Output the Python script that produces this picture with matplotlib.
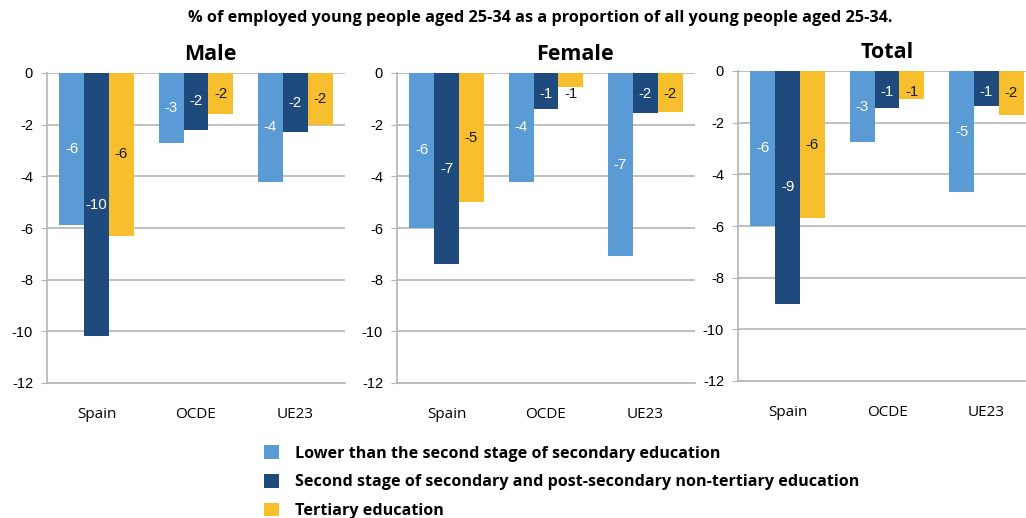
import numpy as np
import matplotlib
matplotlib.use("Agg")
import matplotlib.pyplot as plt
from matplotlib.patches import Patch

plt.rcParams["axes.unicode_minus"] = False

# Change in employment rate of 25-34 year olds, by education level
regions = ["Spain", "OCDE", "UE23"]
panels = ["Male", "Female", "Total"]
series = [
    "Lower than the second stage of secondary education",
    "Second stage of secondary and post-secondary non-tertiary education",
    "Tertiary education",
]

male_lower = [-5.9, -2.7, -4.2]
male_upper = [-10.2, -2.2, -2.3]
male_tertiary = [-6.3, -1.6, -2.0]

female_lower = [-6.0, -4.2, -7.1]
female_upper = [-7.4, -1.4, -1.55]
female_tertiary = [-5.0, -0.55, -1.52]

total_lower = [-6.0, -2.75, -4.7]
total_upper = [-9.0, -1.45, -1.35]
total_tertiary = [-5.7, -1.1, -1.7]

panel_data = {
    "Male": [male_lower, male_upper, male_tertiary],
    "Female": [female_lower, female_upper, female_tertiary],
    "Total": [total_lower, total_upper, total_tertiary],
}

colors = ["#5b9bd5", "#1f4a7d", "#f7bf2e"]
label_colors = ["white", "white", "#1a1a1a"]
grid_color = "#b5b5b5"

W, H = 1026, 518
fig = plt.figure(figsize=(W / 100, H / 100), dpi=100)

# axes boxes in pixels: left, right, top (y=0), bottom (y=-12)
boxes = [(47, 345, 73, 383), (397, 695, 73, 383), (738, 1036, 71, 381)]
title_x = [0.547, 0.597, 0.5]

bar_w = 0.25
x = np.arange(len(regions))

for name, (l, r, t, b), tx in zip(panels, boxes, title_x):
    ax = fig.add_axes([l / W, 1 - b / H, (r - l) / W, (b - t) / H])
    for i, vals in enumerate(panel_data[name]):
        pos = x + (i - 1) * bar_w
        ax.bar(pos, vals, width=bar_w, color=colors[i], zorder=3)
        for p, v in zip(pos, vals):
            # short bars get their label pushed a little lower
            ax.text(p, min(v / 2, -0.8), f"{round(v):d}", ha="center",
                    va="center", color=label_colors[i], fontsize=10.8,
                    family="Liberation Sans", zorder=4)
    ax.set_xlim(-0.5, 2.5)
    ax.set_ylim(-12, 0)
    ax.set_yticks(np.arange(-12, 1, 2))
    ax.yaxis.grid(True, color=grid_color, linewidth=1.2, zorder=0)
    ax.set_axisbelow(True)
    for s in ["top", "right"]:
        ax.spines[s].set_visible(False)
    for s in ["left", "bottom"]:
        ax.spines[s].set_color(grid_color)
        ax.spines[s].set_linewidth(1.2)
    ax.set_xticks(x)
    ax.set_xticklabels(regions, fontsize=11, family="Open Sans")
    ax.tick_params(axis="x", length=0, pad=17)
    ax.tick_params(axis="y", length=4, color=grid_color, pad=6,
                   labelsize=10.5)
    for lab in ax.get_yticklabels():
        lab.set_family("Liberation Sans")
    ax.set_title(name, x=tx, fontsize=15.5, fontweight="bold",
                 family="Open Sans", pad=9)

fig.text(540 / W, 1 - 18 / H,
         "% of employed young people aged 25-34 as a proportion of all young people aged 25-34.",
         ha="center", va="center", fontsize=11.7, fontweight="bold",
         family="Open Sans")

handles = [Patch(facecolor=c) for c in colors]
fig.legend(handles, series, loc="upper left",
           bbox_to_anchor=(258 / W, 1 - 439 / H), frameon=False,
           prop={"family": "Open Sans", "weight": "bold", "size": 11.6},
           handlelength=0.9, handleheight=0.9, handletextpad=1.0,
           labelspacing=0.78, borderaxespad=0)

fig.savefig("out.png", dpi=100)
